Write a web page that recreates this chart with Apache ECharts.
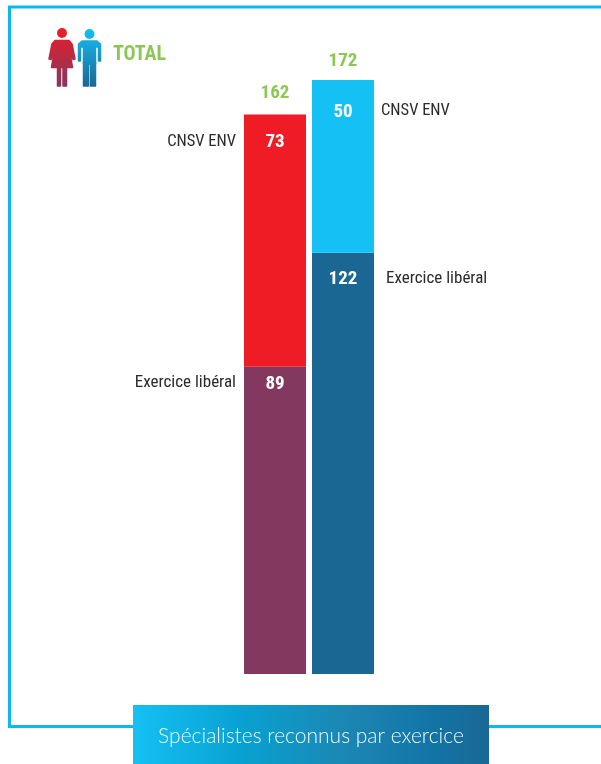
<!DOCTYPE html>
<html><head><meta charset="utf-8">
<style>html,body{margin:0;padding:0;background:#fff}#c{width:601px;height:764px}</style>
<script src="https://cdn.jsdelivr.net/npm/echarts@6/dist/echarts.min.js"></script>
</head><body><div id="c"></div>
<script>
const categories = ['Femmes', 'Hommes'];
const liberal = [89, 122];
const cnsv = [73, 50];
const totals = [162, 172];
const title = 'Spécialistes reconnus par exercice';
const heading = 'TOTAL';
const labelCnsv = 'CNSV ENV';
const labelLiberal = 'Exercice libéral';

const narrow = '"Roboto Condensed","Liberation Sans",sans-serif';
const vg = (a, b) => ({type: 'linear', x: 0, y: 28, x2: 0, y2: 87, global: true,
  colorStops: [{offset: 0, color: a}, {offset: 1, color: b}]});
const redGrad = vg('#ee1c25', '#833860');
const blueGrad = vg('#15c0f5', '#1a6794');
const bannerGrad = {type: 'linear', x: 0, y: 0, x2: 1, y2: 0, colorStops: [
  {offset: 0, color: '#15c0f5'}, {offset: 0.3, color: '#08a2d2'},
  {offset: 0.6, color: '#1c86b3'}, {offset: 0.85, color: '#1274a5'}, {offset: 1, color: '#1a6794'}]};

const iconPart = (points, fill) => ({type: 'polygon', z: 3, shape: {points},
  style: {fill, stroke: fill, lineWidth: 1.5, lineJoin: 'round'}});
const iconHead = (cx, cy, fill) => ({type: 'circle', z: 3, shape: {cx, cy, r: 5}, style: {fill}});

const woman = [
  iconHead(62, 33, redGrad),
  iconPart([[55, 40.500], [69, 40.500], [72, 44], [75, 59], [73, 59.500], [69, 46], [72.500, 67.500], [51.500, 67.500], [55, 46], [51, 59.500], [49, 59], [52, 44]], redGrad),
  iconPart([[57.500, 67], [60.500, 67], [60.500, 86], [57.500, 86]], redGrad),
  iconPart([[63, 67], [66.500, 67], [66.500, 86], [63, 86]], redGrad)
];
const man = [
  iconHead(89.500, 34, blueGrad),
  iconPart([[82, 41], [97, 41], [100.500, 44], [100.500, 61], [98.500, 61], [98.500, 47], [95.500, 47], [95.500, 64], [83.500, 64], [83.500, 47], [80.500, 47], [80.500, 61], [78.500, 61], [78.500, 44]], blueGrad),
  iconPart([[83.500, 62], [88.500, 62], [88.500, 86], [83.500, 86]], blueGrad),
  iconPart([[90.500, 62], [95.500, 62], [95.500, 86], [90.500, 86]], blueGrad)
];

const chart = echarts.init(document.getElementById('c'), null, {renderer: 'canvas'});
const sideLabel = (text, x, y, align, size) => ({type: 'text', z: 10, style: {
  text, x, y, align, verticalAlign: 'middle', fill: '#2b2b2b', font: size + 'px ' + narrow}});
const valueLabel = {show: true, position: 'insideTop', color: '#fff',
  fontFamily: narrow, fontWeight: 'bold', fontSize: 19};
chart.setOption({
  animation: false,
  backgroundColor: '#fff',
  grid: {left: 241, width: 136, top: 80, height: 594, containLabel: false},
  xAxis: {type: 'category', data: categories, show: false},
  yAxis: {type: 'value', min: 0, max: 172, show: false},
  series: [
    {type: 'bar', stack: 's', barWidth: 62, label: valueLabel, data: [
      {value: liberal[0], itemStyle: {color: '#833860'}, label: {distance: 8}},
      {value: liberal[1], itemStyle: {color: '#1a6794'}, label: {distance: 17}}]},
    {type: 'bar', stack: 's', barWidth: 62, label: valueLabel, data: [
      {value: cnsv[0], itemStyle: {color: '#ef1c25'}, label: {distance: 18}},
      {value: cnsv[1], itemStyle: {color: '#15c0f5'}, label: {distance: 23}}]},
    {type: 'line', symbolSize: 1, itemStyle: {opacity: 0},
     lineStyle: {opacity: 0}, silent: true,
     label: {show: true, position: 'top', color: '#8cc756', opacity: 1,
       fontFamily: narrow, fontWeight: 'bold', fontSize: 19},
     data: [{value: totals[0], label: {distance: 10}}, {value: totals[1], label: {distance: 8}}]}
  ],
  graphic: [
    {type: 'polyline', z: 1, shape: {points: [[601, 7], [9.500, 7], [9.500, 726.500], [601, 726.500]]},
     style: {stroke: '#0db7f3', lineWidth: 3, fill: null}},
    {type: 'rect', z: 2, shape: {x: 133, y: 705, width: 356, height: 59},
     style: {fill: bannerGrad}},
    {type: 'text', z: 3, style: {text: title, x: 311, y: 736, align: 'center', verticalAlign: 'middle',
      fill: '#f0fafe', font: '300 21px Lato,"Open Sans",sans-serif'}},
    ...woman,
    ...man,
    {type: 'text', z: 3, style: {text: heading, x: 113, y: 55, verticalAlign: 'middle',
      fill: '#8cc756', font: 'bold 20px ' + narrow}},
    sideLabel(labelCnsv, 236, 142, 'right', 16.5),
    sideLabel(labelLiberal, 236, 383, 'right', 17),
    sideLabel(labelCnsv, 381, 111, 'left', 16.5),
    sideLabel(labelLiberal, 386, 279, 'left', 17)
  ]
});
</script></body></html>
